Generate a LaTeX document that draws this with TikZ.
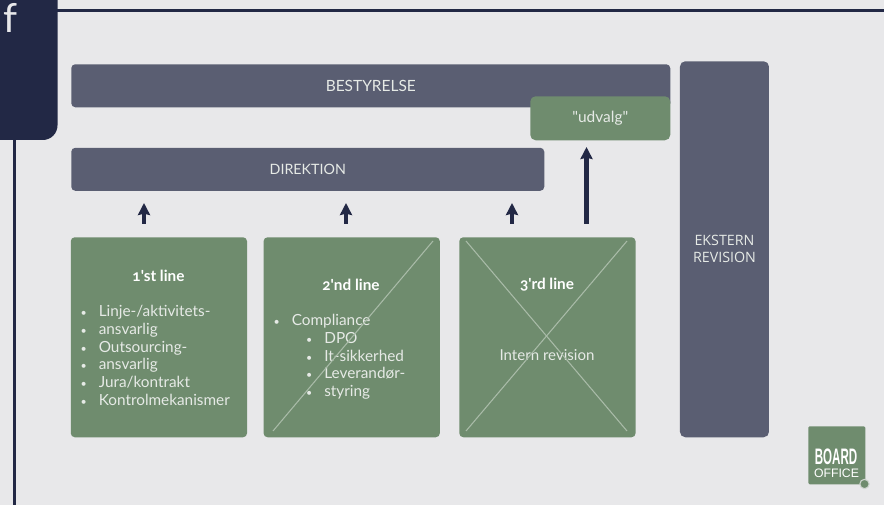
\documentclass[tikz,border=0pt]{standalone}
\usepackage{fontspec}
\defaultfontfeatures[\rmfamily]{}
\setmainfont{Lato}[Numbers=OldStyle]
\newfontfamily\boxfont{Open Sans}
\newfontfamily\logofont{Liberation Sans}
\usetikzlibrary{arrows.meta}
\usetikzlibrary{positioning}
\definecolor{pagebg}{HTML}{E8E8EA}
\definecolor{navy}{HTML}{222845}
\definecolor{slate}{HTML}{5A5E72}
\definecolor{sage}{HTML}{6F8C6E}
\definecolor{paletext}{HTML}{E6EAE6}
\definecolor{crossline}{HTML}{A9BBA8}
\newcommand{\blt}[1]{\makebox[19.9pt][l]{\hspace{6.2pt}\footnotesize\textbullet}#1}
\tikzset{
    board/.style={
           rectangle,
           rounded corners=3pt,
           fill=slate,
           text=paletext,
           inner sep=0pt,
           text centered,
           font=\fontsize{11.6}{13}\selectfont,
           },
}
\tikzset{
    card/.style={
           rectangle,
           rounded corners=3pt,
           fill=sage,
           inner sep=0pt,
           minimum width=132.2pt,
           minimum height=150pt,
           },
}
\tikzset{
    title/.style={
           text=white,
           inner sep=0pt,
           font=\fontsize{11.5}{13}\bfseries\selectfont,
           },
}
\tikzset{
    bullets/.style={
           text=paletext,
           inner sep=0pt,
           align=left,
           anchor=north west,
           font=\fontsize{11.5}{13.35}\selectfont,
           },
}
\tikzset{
    up/.style={
           -{Stealth[length=9pt,width=9pt,inset=1pt]},
           navy,
           line width=3.6pt,
           },
}
\tikzset{
    cross/.style={
           crossline,
           line width=0.8pt,
           },
}
\begin{document}
\begin{tikzpicture}[x=0.75pt,y=-0.75pt]
\clip (0,0) rectangle (884,505);
\fill[pagebg] (0,0) rectangle (884,505);
\coordinate (HLa) at (57,10.4);
\coordinate (HLb) at (884,10.4);
\coordinate (VLa) at (14.5,140);
\coordinate (VLb) at (14.5,505);
\path (HLa) edge[-,navy,line width=1.9pt] (HLb);
\path (VLa) edge[-,navy,line width=1.9pt] (VLb);
\fill[navy] (0,0) -- (57.5,0) [rounded corners=11pt] -- (57.5,140) [sharp corners] -- (0,140) -- cycle;
\node[anchor=base west,inner sep=0pt,text=pagebg,font=\fontsize{30}{30}\selectfont] (F) at (3,33) {f};
% top row
\node[board,anchor=north west,minimum width=449.25pt,minimum height=32.25pt] (BEST) at (71,64) {BESTYRELSE};
\node[board,anchor=north west,minimum width=354.75pt,minimum height=32.25pt,font=\fontsize{10.7}{13}\selectfont] (DIR) at ([yshift=-30pt]BEST.south west) {DIREKTION};
\node[board,anchor=north west,rounded corners=4pt,fill=sage,minimum width=105pt,minimum height=33pt] (UDV) at (530,96) {"udvalg"};
\node[board,anchor=north west,rounded corners=4pt,minimum width=66.75pt,minimum height=282pt] (EKS) at (679.7,61) {};
\node[text=paletext,inner sep=0pt,align=center,font=\boxfont\fontsize{10.7}{13.2}\selectfont] (EKStxt) at (724.5,249) {EKSTERN\\REVISION};
% cards
\node[card,anchor=north west] (L1) at (70.5,237) {};
\node[card,right = 12pt of L1] (L2) {};
\node[card,right = 14.2pt of L2] (L3) {};
\node[title] (T1) at (158.5,276) {1'st line};
\node[title] (T2) at (351,285) {2'nd line};
\node[title] (T3) at (547,285) {3'rd line};
\node[bullets] (B1) at (72,305) {\blt{Linje-/aktivitets-}\\\blt{ansvarlig}\\\blt{Outsourcing-}\\\blt{ansvarlig}\\\blt{Jura/kontrakt}\\\blt{Kontrolmekanismer}};
\node[bullets] (B2) at (265,314) {\blt{Compliance}\\\hspace{24.4pt}\blt{DPO}\\\hspace{24.4pt}\blt{It-sikkerhed}\\\hspace{24.4pt}\blt{Leverandør-}\\\hspace{24.4pt}\blt{styring}};
\node[text=paletext,inner sep=0pt,font=\fontsize{11.3}{13}\selectfont] (B3) at (547,355) {Intern revision};
% crossed out
\coordinate (C2a) at (273,431);
\coordinate (C2b) at (433,241);
\coordinate (C3a) at (466,431);
\coordinate (C3b) at (627,241);
\coordinate (C3c) at (466,241);
\coordinate (C3d) at (627,431);
\path (C2a) edge[cross] (C2b);
\path (C3a) edge[cross] (C3b);
\path (C3c) edge[cross] (C3d);
% arrows
\foreach \n/\ax in {1/144,2/346,3/512}{
  \coordinate (Af\n) at (\ax,224);
  \coordinate (At\n) at (\ax,203);
  \path (Af\n) edge[up] (At\n);
}
\coordinate (Af4) at (586.5,224);
\coordinate (At4) at (586.5,147);
\path (Af4) edge[up] (At4);
% logo
\node[anchor=north west,fill=sage,inner sep=0pt,minimum width=42.75pt,minimum height=43.5pt,rounded corners=1pt] (LOGO) at (808,426) {};
\node[circle,fill=sage,draw=pagebg!80!sage,line width=0.8pt,minimum size=7pt,inner sep=0pt] (DOT) at (864.5,484) {};
\node[text=white,inner sep=0pt,font=\logofont\bfseries\fontsize{14}{14}\selectfont] (LB) at (836,457) {\scalebox{0.62}[1.2]{BOARD}};
\node[text=white,inner sep=0pt,font=\logofont\fontsize{9.2}{9}\selectfont] (LO) at (836.5,473.5) {OFFICE};
\end{tikzpicture}
\end{document}
